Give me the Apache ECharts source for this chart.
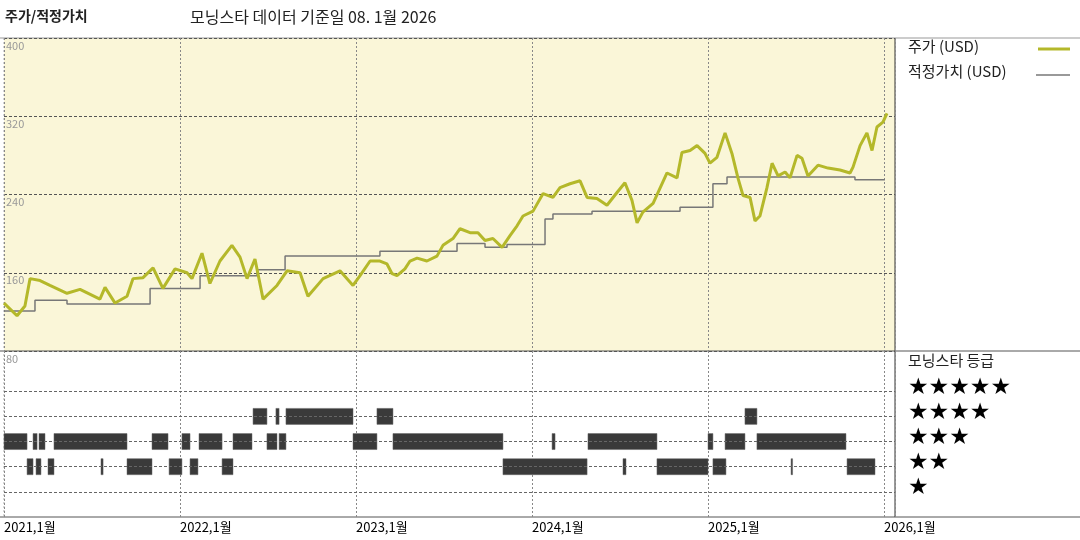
<!DOCTYPE html>
<html>
<head>
<meta charset="utf-8">
<script src="https://cdn.jsdelivr.net/npm/echarts@6/dist/echarts.min.js"></script>
<style>
html,body{margin:0;padding:0;background:#fff;}
#chart{width:1080px;height:540px;}
</style>
</head>
<body>
<div id="chart"></div>
<script>
// x values are decimal years (2021.0 = Jan 2021)
var priceX = [0,0.074,0.119,0.148,0.205,0.261,0.358,0.432,0.545,0.574,0.631,0.699,0.733,0.790,0.847,0.903,0.972,
  1.040,1.068,1.125,1.170,1.227,1.295,1.341,1.381,1.426,1.472,1.551,1.608,1.682,1.727,1.813,1.909,1.983,
  2.023,2.080,2.136,2.176,2.205,2.233,2.278,2.307,2.347,2.403,2.460,2.494,2.551,2.591,2.648,2.693,2.733,2.778,2.830,2.875,2.915,2.949,
  3.006,3.063,3.119,3.159,3.216,3.273,3.313,3.369,3.426,3.483,3.528,3.568,3.597,3.630,3.688,3.767,3.824,3.852,3.898,3.938,3.983,
  4.011,4.051,4.097,4.136,4.170,4.199,4.239,4.267,4.295,4.335,4.364,4.398,4.438,4.466,4.506,4.534,4.568,4.625,4.682,4.750,4.807,4.824,4.864,4.903,4.932,4.960,4.994,5.017];
var priceY = [129,116,126,154,152,147,139,143,133,145,129,136,154,155,165,144,164,
  160,154,180,149,172,188,176,154,174,133,147,162,160,136,154,162,147,
  157,172,172,169,159,157,164,172,175,172,177,188,195,205,201,201,193,195,186,198,208,218,
  223,241,237,247,251,254,237,236,229,242,252,234,211,222,231,262,257,283,285,290,282,
  272,278,303,282,257,239,237,213,218,247,272,259,263,257,280,277,259,270,267,265,262,268,290,303,285,309,314,323];
var fairX = [0,0.176,0.358,0.830,1.114,1.438,1.597,2.136,2.574,2.733,2.858,3.074,3.119,3.341,3.841,4.028,4.108,4.835,5.005];
var fairY = [121,132,128,144,157,163,177,182,190,186,189,215,220,223,227,251,258,255,255];
// rating segments: [start, end, stars]
var ratingSegs = [
  [1.415,1.494,4],[1.545,1.563,4],[1.602,1.983,4],[2.119,2.210,4],[4.210,4.278,4],
  [0,0.131,3],[0.165,0.188,3],[0.199,0.233,3],[0.284,0.699,3],[0.841,0.932,3],[1.011,1.057,3],[1.108,1.239,3],
  [1.301,1.409,3],[1.494,1.551,3],[1.563,1.602,3],[1.983,2.119,3],[2.210,2.835,3],[3.114,3.131,3],[3.318,3.710,3],
  [4.0,4.028,3],[4.097,4.210,3],[4.278,4.784,3],
  [0.131,0.165,2],[0.182,0.210,2],[0.250,0.284,2],[0.551,0.563,2],[0.699,0.841,2],[0.938,1.011,2],[1.057,1.102,2],
  [1.239,1.301,2],[2.835,3.313,2],[3.517,3.534,2],[3.710,4.0,2],[4.028,4.102,2],[4.472,4.477,2],[4.790,4.949,2]
];
var ratingLevels = [1,2,3,4,5];
var starLabels = ['★★★★★','★★★★','★★★','★★','★'];
var startYear = 2021;

var font = '"Noto Sans CJK KR", "DejaVu Sans", sans-serif';
function zip(xs, ys){ return xs.map(function(x,i){ return [startYear + x, ys[i]]; }); }

var chart = echarts.init(document.getElementById('chart'));
var gridL = 4, gridR = 185;
var starGraphics = starLabels.map(function(s, i){
  return {type:'text', left: 908, top: 377 + i*25, style:{text:s, font:'23px "DejaVu Sans"', fill:'#000'}};
});
var dash = {color:'#888', type:[2,2], width:1};
chart.setOption({
  animation: false,
  textStyle: {fontFamily: font},
  grid: [
    {left: gridL, right: gridR, top: 38, height: 313, backgroundColor: '#faf6d8', show: true, borderWidth: 0},
    {left: gridL, right: gridR, top: 351, height: 166, show: false}
  ],
  xAxis: [
    {gridIndex:0, type:'value', min:2021, max:2026.0625, interval:1,
      axisLine:{show:false}, axisTick:{show:false}, axisLabel:{show:false},
      splitLine:{show:true, lineStyle:dash}},
    {gridIndex:1, type:'value', min:2021, max:2026.0625, interval:1,
      axisLine:{show:false}, axisTick:{show:false},
      axisLabel:{show:true, align:'left', margin:4, color:'#000', fontSize:13,
        formatter:function(v){ return v + ',1월'; }, showMaxLabel:false},
      splitLine:{show:true, lineStyle:dash}}
  ],
  yAxis: [
    {gridIndex:0, type:'value', min:80, max:400, interval:80,
      axisLine:{show:false}, axisTick:{show:false},
      axisLabel:{inside:true, verticalAlign:'top', color:'#999', fontSize:11, margin:2, padding:[2,0,0,0]},
      splitLine:{show:true, lineStyle:{color:'#555', type:[3,2], width:1}}},
    {gridIndex:1, type:'value', min:0, max:6.6,
      axisLine:{show:false}, axisTick:{show:false}, axisLabel:{show:false}, splitLine:{show:false}}
  ],
  series: [
    {type:'line', xAxisIndex:0, yAxisIndex:0, step:'end', symbol:'none',
      data: zip(fairX, fairY), lineStyle:{color:'#777', width:1.5}, z:3},
    {type:'line', xAxisIndex:0, yAxisIndex:0, symbol:'none',
      data: zip(priceX, priceY), lineStyle:{color:'#b4b82a', width:3}, z:4},
    {type:'custom', xAxisIndex:1, yAxisIndex:1,
      data: ratingSegs.map(function(s){ return [startYear + s[0], startYear + s[1], s[2]]; }),
      renderItem: function(params, api){
        var a = api.coord([api.value(0), api.value(2)]);
        var b = api.coord([api.value(1), api.value(2)]);
        var w = Math.max(b[0] - a[0], 1.5);
        return {type:'rect', shape:{x:a[0], y:a[1]-8, width:w, height:16},
          style:{fill:'#3a3a3a', stroke:'#666', lineWidth:0.5}};
      },
      markLine: {silent:true, symbol:'none', label:{show:false},
        lineStyle:{color:'#666', type:[3,2], width:1},
        data: ratingLevels.map(function(v){ return {yAxis: v}; })}, z:3}
  ],
  graphic: [
    {type:'text', left:5, top:9, style:{text:'주가/적정가치', font:'bold 14px ' + font, fill:'#222'}},
    {type:'text', left:190, top:9, style:{text:'모닝스타 데이터 기준일 08. 1월 2026', font:'16px ' + font, fill:'#222'}},
    {type:'line', shape:{x1:0, y1:38, x2:1080, y2:38}, style:{stroke:'#999', lineWidth:1}},
    {type:'line', shape:{x1:0, y1:351, x2:1080, y2:351}, style:{stroke:'#555', lineWidth:1}},
    {type:'line', shape:{x1:0, y1:517, x2:1080, y2:517}, style:{stroke:'#555', lineWidth:1}},
    {type:'line', shape:{x1:895, y1:38, x2:895, y2:517}, style:{stroke:'#333', lineWidth:1}},
    {type:'line', shape:{x1:4, y1:38, x2:4, y2:517}, style:{stroke:'#aaa', lineWidth:1, lineDash:[2,2]}},
    {type:'text', left:908, top:39, style:{text:'주가 (USD)', font:'15px ' + font, fill:'#222'}},
    {type:'line', shape:{x1:1038, y1:49, x2:1070, y2:49}, style:{stroke:'#b4b82a', lineWidth:3}},
    {type:'text', left:908, top:64, style:{text:'적정가치 (USD)', font:'15px ' + font, fill:'#222'}},
    {type:'line', shape:{x1:1036, y1:75, x2:1070, y2:75}, style:{stroke:'#777', lineWidth:1.5}},
    {type:'text', left:908, top:353, style:{text:'모닝스타 등급', font:'15px ' + font, fill:'#222'}}
  ].concat(starGraphics)
});
</script>
</body>
</html>
